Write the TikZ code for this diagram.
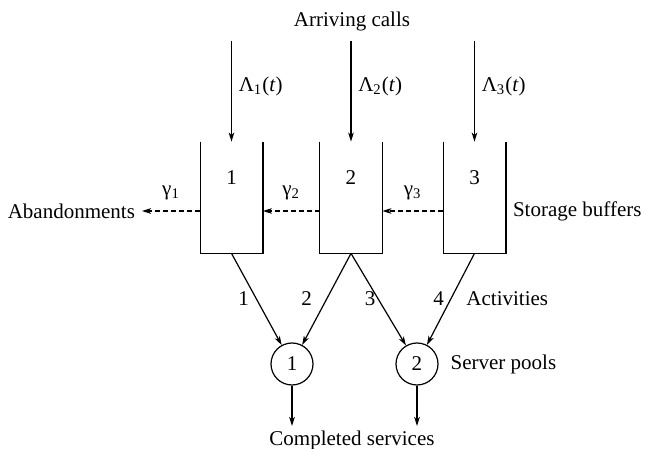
\documentclass[tikz,border=0pt]{standalone}
\usepackage{fontspec}
\setmainfont{Liberation Serif}
\usetikzlibrary{arrows.meta,positioning}
\tikzset{
  buffer/.style={minimum width=31pt,minimum height=55.5pt,inner sep=0pt},
  pool/.style={circle,draw,semithick,minimum size=21pt,inner sep=0pt},
  flow/.style={-{Stealth[length=4.5pt,width=2.8pt,inset=1.2pt]},semithick},
  lost/.style={flow,dash pattern=on 2.5pt off 1.5pt},
  tag/.style={inner sep=1pt}
}

\begin{document}
\begin{tikzpicture}[x=0.5pt,y=-0.5pt,font=\fontsize{10.5pt}{13pt}\selectfont]
  \useasboundingbox (0,0) rectangle (655,449);

  % storage buffers, open at the top
  \foreach \i/\x in {1/231.5,2/351,3/474.5} {
    \node[buffer] (buf\i) at (\x,197.5) {};
    \draw[semithick] (buf\i.north west) |- (buf\i.south east) -- (buf\i.north east);
    \node[below=11pt of buf\i.north] {\i};
    \coordinate (in\i) at (\x,41);
    \draw[flow] (in\i) -- (buf\i.north)
      node[right,pos=0.45] {Λ\textsubscript{\i}(\textit{t})};
  }
  \node (arrive) at (352,21) {Arriving calls};

  % abandonments
  \node[anchor=east] (aband) at (142,211) {Abandonments};
  \node[anchor=west] (storage) at (506,211) {Storage buffers};
  \draw[lost] ([yshift=-6.75pt]buf1.west) -- (aband)
    node[midway,above=2pt] {γ\textsubscript{1}};
  \draw[lost] ([yshift=-6.75pt]buf2.west) -- ([yshift=-6.75pt]buf1.east)
    node[midway,above=2pt] {γ\textsubscript{2}};
  \draw[lost] ([yshift=-6.75pt]buf3.west) -- ([yshift=-6.75pt]buf2.east)
    node[midway,above=2pt] {γ\textsubscript{3}};

  % server pools
  \node[pool] (pool1) at (292,364) {1};
  \node[pool] (pool2) at (417,364) {2};
  \node[right=2.5pt of pool2] (pools) {Server pools};

  % activities
  \draw[flow] (buf1.south) -- (pool1) node[pos=0.49,left] {1};
  \draw[flow] (buf2.south) -- (pool1) node[pos=0.49,left=4pt] {2};
  \draw[flow] (buf2.south) -- (pool2) node[pos=0.49,left,tag] {3};
  \draw[flow] (buf3.south) -- (pool2) node[pos=0.49,left] {4}
    node[pos=0.49,right=4pt] {Activities};

  % completed services
  \coordinate (out1) at (292,426);
  \coordinate (out2) at (417,426);
  \draw[flow] (pool1) -- (out1);
  \draw[flow] (pool2) -- (out2);
  \node (done) at (352,440) {Completed services};
\end{tikzpicture}
\end{document}
